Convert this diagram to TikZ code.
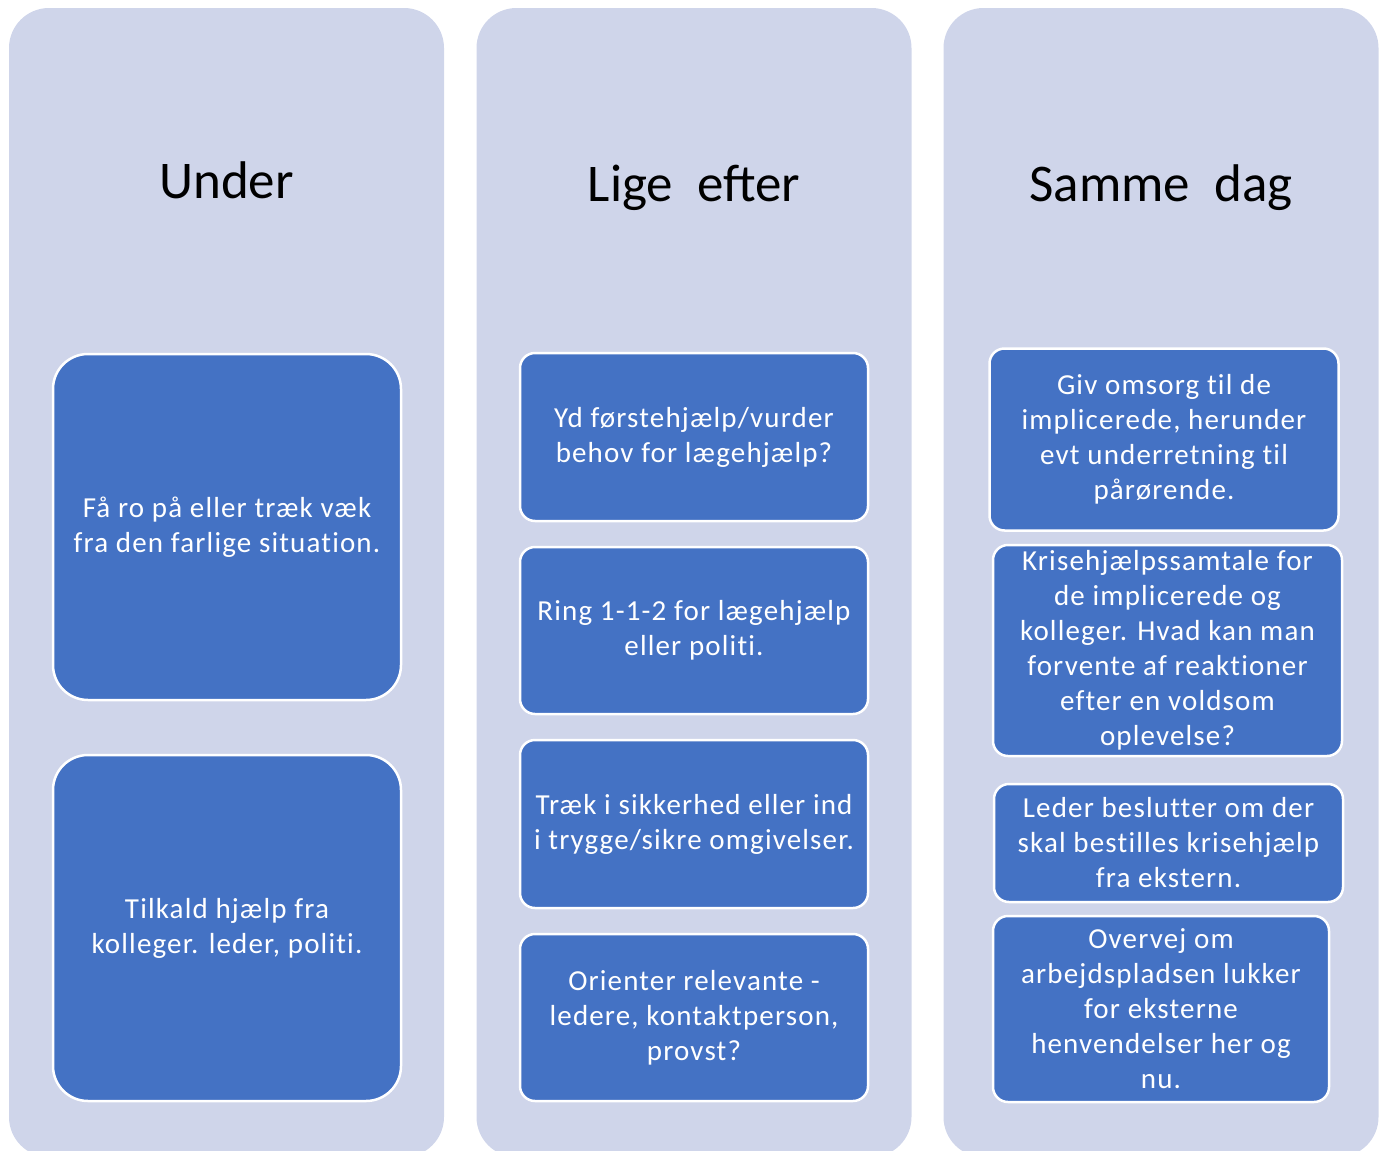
\documentclass[tikz,border=0pt]{standalone}
\usepackage{fontspec}
\setmainfont{Carlito}
\newfontfamily\boxfont{Carlito}[LetterSpace=4, Ligatures=NoCommon]
\definecolor{lav}{HTML}{CFD5EA}
\definecolor{blu}{HTML}{4472C4}
\tikzset{
    col/.style={rectangle, fill=lav, draw=none, rounded corners=40pt, inner sep=0pt, minimum width=435pt, minimum height=1149pt}
}
\tikzset{
    hd/.style={font=\fontsize{53}{60}\selectfont, text=black}
}
\tikzset{
    box/.style={rectangle, fill=blu, draw=white, line width=2.5pt, rounded corners=15pt, inner sep=0pt, text=white, align=center, font=\boxfont\fontsize{29}{35}\selectfont}
}

\begin{document}
\begin{tikzpicture}[x=1pt, y=-1pt]
  \clip (0,0) rectangle (1384,1151);
  \node (c1) [col] at (226.5,582.5) {};
  \node (c2) [col] at (694,582.5) {};
  \node (c3) [col] at (1161,582.5) {};

  \node (h1) [hd] at (226.5,180) {Under};
  \node (h2) [hd] at (694,188) {Lige~~efter};
  \node (h3) [hd] at (1161,188) {Samme~~dag};

  \node (u1) [box, rounded corners=35pt, minimum width=348pt, minimum height=346pt] at (227,527) {Få ro på eller træk væk\\fra den farlige situation.};
  \node (u2) [box, rounded corners=35pt, minimum width=348pt, minimum height=346pt] at (227,928) {Tilkald hjælp fra\\kolleger. leder, politi.};

  \node (l1) [box, minimum width=348pt, minimum height=168pt] at (694,437) {Yd førstehjælp/vurder\\behov for lægehjælp?};
  \node (l2) [box, minimum width=348pt, minimum height=167pt] at (694,630.5) {Ring 1-1-2 for lægehjælp\\eller politi.};
  \node (l3) [box, minimum width=348pt, minimum height=168pt] at (694,824) {Træk i sikkerhed eller ind\\i trygge/sikre omgivelser.};
  \node (l4) [box, minimum width=348pt, minimum height=167pt] at (694,1017.5) {Orienter relevante -\\ledere, kontaktperson,\\provst?};

  \node (s1) [box, minimum width=349pt, minimum height=182pt] at (1164,439.5) {Giv omsorg til de\\implicerede, herunder\\evt underretning til\\pårørende.};
  \node (s2) [box, minimum width=349pt, minimum height=211pt] at (1167.5,650.5) {Krisehjælpssamtale for\\de implicerede og\\kolleger. Hvad kan man\\forvente af reaktioner\\efter en voldsom\\oplevelse?};
  \node (s3) [box, minimum width=349pt, minimum height=118pt] at (1168.5,843) {Leder beslutter om der\\skal bestilles krisehjælp\\fra ekstern.};
  \node (s4) [box, minimum width=336pt, minimum height=186pt] at (1161,1009) {Overvej om\\arbejdspladsen lukker\\for eksterne\\henvendelser her og\\nu.};
\end{tikzpicture}
\end{document}
